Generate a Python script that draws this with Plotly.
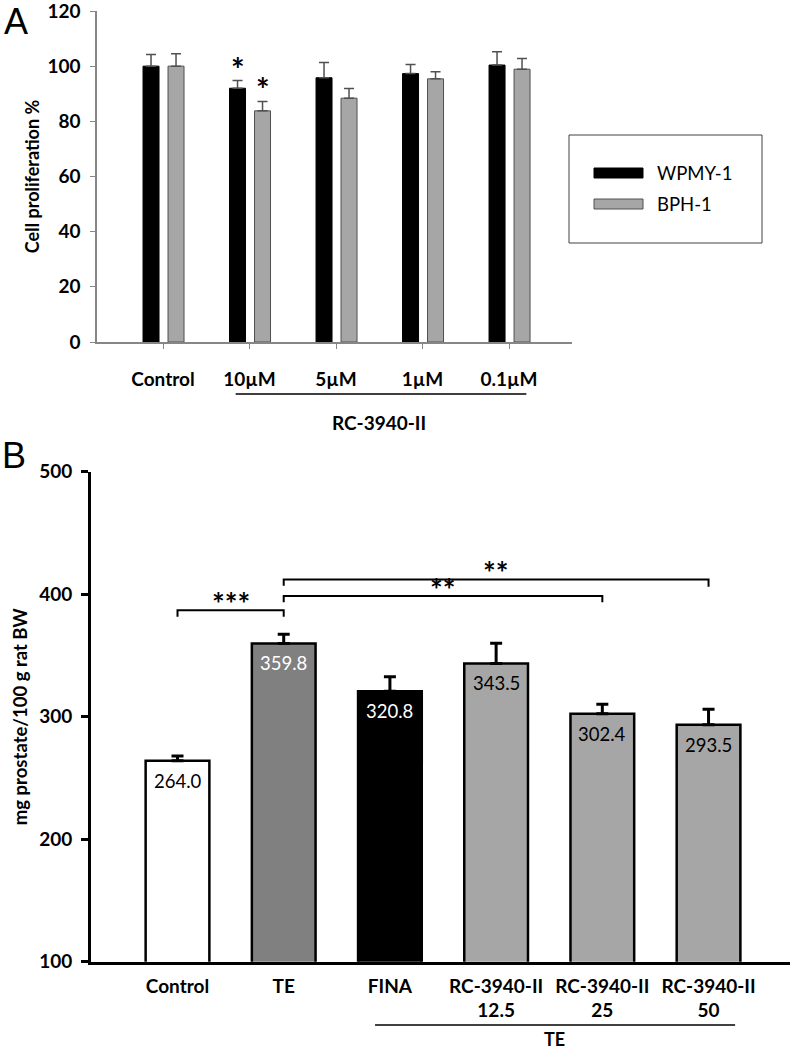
import plotly.graph_objects as go

W, H = 798, 1051

# ---------------- Panel A data ----------------
a_categories = ["Control", "10µM", "5µM", "1µM", "0.1µM"]
a_group_label = "RC-3940-II"
wpmy_name = "WPMY-1"
bph_name = "BPH-1"
wpmy_values = [100.0, 92.0, 95.8, 97.3, 100.4]
wpmy_err = [4.2, 2.8, 5.5, 3.3, 4.8]
bph_values = [100.0, 83.8, 88.4, 95.4, 98.9]
bph_err = [4.5, 3.4, 3.5, 2.6, 3.9]
wpmy_sig = ["", "*", "", "", ""]
bph_sig = ["", "*", "", "", ""]
a_yticks = [0, 20, 40, 60, 80, 100, 120]

# ---------------- Panel B data ----------------
b_categories = ["Control", "TE", "FINA", "RC-3940-II<br>12.5",
                "RC-3940-II<br>25", "RC-3940-II<br>50"]
b_values = [264.0, 359.8, 320.8, 343.5, 302.4, 293.5]
b_err = [3.9, 7.5, 11.9, 16.4, 7.7, 12.5]
b_group_label = "TE"
b_yticks = [100, 200, 300, 400, 500]
b_comparisons = [(0, 1, "***"), (1, 4, "**"), (1, 5, "**")]

# ---------------- styling ----------------
FONT = "Lato"
BLACK = "#000000"
GRAY_A = "#a6a6a6"
AX_GRAY = "#868686"
b_colors = ["#ffffff", "#808080", "#000000", "#a6a6a6", "#a6a6a6", "#a6a6a6"]
b_text_colors = ["#000000", "#ffffff", "#ffffff", "#000000", "#000000", "#000000"]


def px(x):
    return x / W


def py(y):
    return 1 - y / H


fig = go.Figure()

ax = list(range(len(a_categories)))
bx = list(range(len(b_categories)))

# Panel A bars
fig.add_trace(go.Bar(
    x=ax, y=wpmy_values, name=wpmy_name, width=0.185, offset=-0.231,
    marker=dict(color=BLACK, line=dict(color=BLACK, width=1)),
    error_y=dict(type="data", array=wpmy_err, arrayminus=[0] * len(ax),
                 symmetric=False, color="#505050", thickness=1.5, width=5),
    xaxis="x", yaxis="y", showlegend=False))
fig.add_trace(go.Bar(
    x=ax, y=bph_values, name=bph_name, width=0.185, offset=0.058,
    marker=dict(color=GRAY_A, line=dict(color="#505050", width=1)),
    error_y=dict(type="data", array=bph_err, arrayminus=[0] * len(ax),
                 symmetric=False, color="#505050", thickness=1.5, width=5),
    xaxis="x", yaxis="y", showlegend=False))

# Panel B bars
fig.add_trace(go.Bar(
    x=bx, y=b_values, width=0.6,
    marker=dict(color=b_colors, line=dict(color=BLACK, width=2.5)),
    error_y=dict(type="data", array=b_err, arrayminus=[0] * len(bx),
                 symmetric=False, color=BLACK, thickness=3, width=6),
    xaxis="x2", yaxis="y2", showlegend=False))

annotations = []
shapes = []

# significance stars panel A
for i in ax:
    if wpmy_sig[i]:
        annotations.append(dict(x=i - 0.231 + 0.0925, y=wpmy_values[i] + wpmy_err[i],
                                xref="x", yref="y", text=wpmy_sig[i], showarrow=False,
                                xanchor="center", yanchor="bottom", yshift=-10,
                                font=dict(family=FONT, size=32, color=BLACK, weight="bold")))
    if bph_sig[i]:
        annotations.append(dict(x=i + 0.058 + 0.0925, y=bph_values[i] + bph_err[i],
                                xref="x", yref="y", text=bph_sig[i], showarrow=False,
                                xanchor="center", yanchor="bottom", yshift=-10,
                                font=dict(family=FONT, size=32, color=BLACK, weight="bold")))

# value labels panel B
for i in bx:
    annotations.append(dict(x=i, y=b_values[i], xref="x2", yref="y2",
                            text=f"{b_values[i]:.1f}", showarrow=False,
                            xanchor="center", yanchor="top", yshift=-7,
                            font=dict(family=FONT, size=18.5, color=b_text_colors[i])))

# comparison brackets panel B
levels = [387.0, 398.5, 412.0]
drops = [[5.5, 5.5], [5.0, 5.0], [5.0, 6.0]]
for (i0, i1, lab), lev, dr in zip(b_comparisons, levels, drops):
    shapes.append(dict(type="path", xref="x2", yref="y2",
                       path=f"M {i0},{lev - dr[0]} L {i0},{lev} L {i1},{lev} L {i1},{lev - dr[1]}",
                       line=dict(color=BLACK, width=2)))
    annotations.append(dict(x=(i0 + i1) / 2, y=lev, xref="x2", yref="y2", text=lab,
                            showarrow=False, xanchor="center", yanchor="bottom", yshift=-13,
                            font=dict(family=FONT, size=30, color=BLACK, weight="bold")))

# group underline A
shapes.append(dict(type="line", xref="x", yref="paper", x0=1 - 0.16, x1=4 + 0.2,
                   y0=py(394), y1=py(394), line=dict(color=BLACK, width=1.5)))
annotations.append(dict(x=2.5, y=py(422), xref="x", yref="paper", text=a_group_label,
                        showarrow=False, xanchor="center", yanchor="middle",
                        font=dict(family=FONT, size=19, color=BLACK, weight="bold")))
# group underline B
shapes.append(dict(type="line", xref="x2", yref="paper", x0=2 - 0.14, x1=5 + 0.25,
                   y0=py(1025), y1=py(1025), line=dict(color=BLACK, width=1.5)))
annotations.append(dict(x=3.55, y=py(1038.5), xref="x2", yref="paper", text=b_group_label,
                        showarrow=False, xanchor="center", yanchor="middle",
                        font=dict(family=FONT, size=18, color=BLACK, weight="bold")))

# legend (panel A)
shapes.append(dict(type="rect", xref="paper", yref="paper", x0=px(569), x1=px(762),
                   y0=py(243), y1=py(135), line=dict(color="#404040", width=1)))
shapes.append(dict(type="rect", xref="paper", yref="paper", x0=px(594), x1=px(643),
                   y0=py(178), y1=py(168), fillcolor=BLACK, line=dict(color=BLACK, width=1)))
shapes.append(dict(type="rect", xref="paper", yref="paper", x0=px(594), x1=px(643),
                   y0=py(209), y1=py(199), fillcolor=GRAY_A, line=dict(color="#505050", width=1)))
annotations.append(dict(x=px(655), y=py(173), xref="paper", yref="paper", text=wpmy_name,
                        xanchor="left", yanchor="middle", showarrow=False,
                        font=dict(family=FONT, size=18.5, color=BLACK)))
annotations.append(dict(x=px(655), y=py(204), xref="paper", yref="paper", text=bph_name,
                        xanchor="left", yanchor="middle", showarrow=False,
                        font=dict(family=FONT, size=18.5, color=BLACK)))

# panel letters
annotations.append(dict(x=px(16), y=py(22), xref="paper", yref="paper", text="A", showarrow=False,
                        xanchor="center", yanchor="middle",
                        font=dict(family="Liberation Sans", size=36, color=BLACK)))
annotations.append(dict(x=px(14), y=py(455), xref="paper", yref="paper", text="B", showarrow=False,
                        xanchor="center", yanchor="middle",
                        font=dict(family="Liberation Sans", size=36, color=BLACK)))

tickfont = dict(family=FONT, size=19, color=BLACK, weight="bold")

fig.update_layout(
    template="none",
    width=W, height=H, margin=dict(l=0, r=0, t=0, b=0, autoexpand=False),
    paper_bgcolor="white", plot_bgcolor="white",
    barmode="overlay",
    font=dict(family=FONT, color=BLACK),
    xaxis=dict(domain=[px(97), px(572)], range=[-0.763, 4.728], anchor="y", automargin=False,
               tickvals=ax, ticktext=a_categories, tickfont=tickfont, ticklabeloverflow="allow",
               showline=True, linecolor=AX_GRAY, linewidth=1.5,
               ticks="outside", ticklen=5, tickcolor=AX_GRAY, tickwidth=1,
               ticklabelstandoff=14, showgrid=False, zeroline=False, fixedrange=True),
    yaxis=dict(domain=[py(342), py(11)], range=[0, 120], anchor="x", automargin=False,
               tickvals=a_yticks, tickfont=tickfont, ticklabeloverflow="allow",
               showline=True, linecolor=AX_GRAY, linewidth=1.5,
               ticks="outside", ticklen=5, tickcolor=AX_GRAY, tickwidth=1,
               ticklabelstandoff=6,
               title=dict(text="Cell proliferation %", standoff=3,
                          font=dict(family=FONT, size=18, color=BLACK, weight="bold")),
               showgrid=False, zeroline=False, fixedrange=True),
    xaxis2=dict(domain=[px(91), px(790)], range=[-0.8145, 5.767], anchor="y2", automargin=False,
                tickvals=bx, ticktext=b_categories, tickfont=tickfont, ticklabeloverflow="allow",
                showline=True, linecolor=BLACK, linewidth=3,
                ticks="", ticklabelstandoff=5,
                showgrid=False, zeroline=False, fixedrange=True),
    yaxis2=dict(domain=[py(961.7), py(471.7)], range=[100, 500], anchor="x2", automargin=False,
                tickvals=b_yticks, tickfont=tickfont, ticklabeloverflow="allow",
                showline=True, linecolor=BLACK, linewidth=3,
                ticks="outside", ticklen=7, tickcolor=BLACK, tickwidth=3,
                ticklabelstandoff=5,
                title=dict(text="mg prostate/100 g rat BW", standoff=7,
                           font=dict(family=FONT, size=18.5, color=BLACK, weight="bold")),
                showgrid=False, zeroline=False, fixedrange=True),
    annotations=annotations,
    shapes=shapes,
)

fig.write_html("out.html", config={"displayModeBar": False},
               post_script="document.body.style.margin='0';document.body.style.padding='0';")
